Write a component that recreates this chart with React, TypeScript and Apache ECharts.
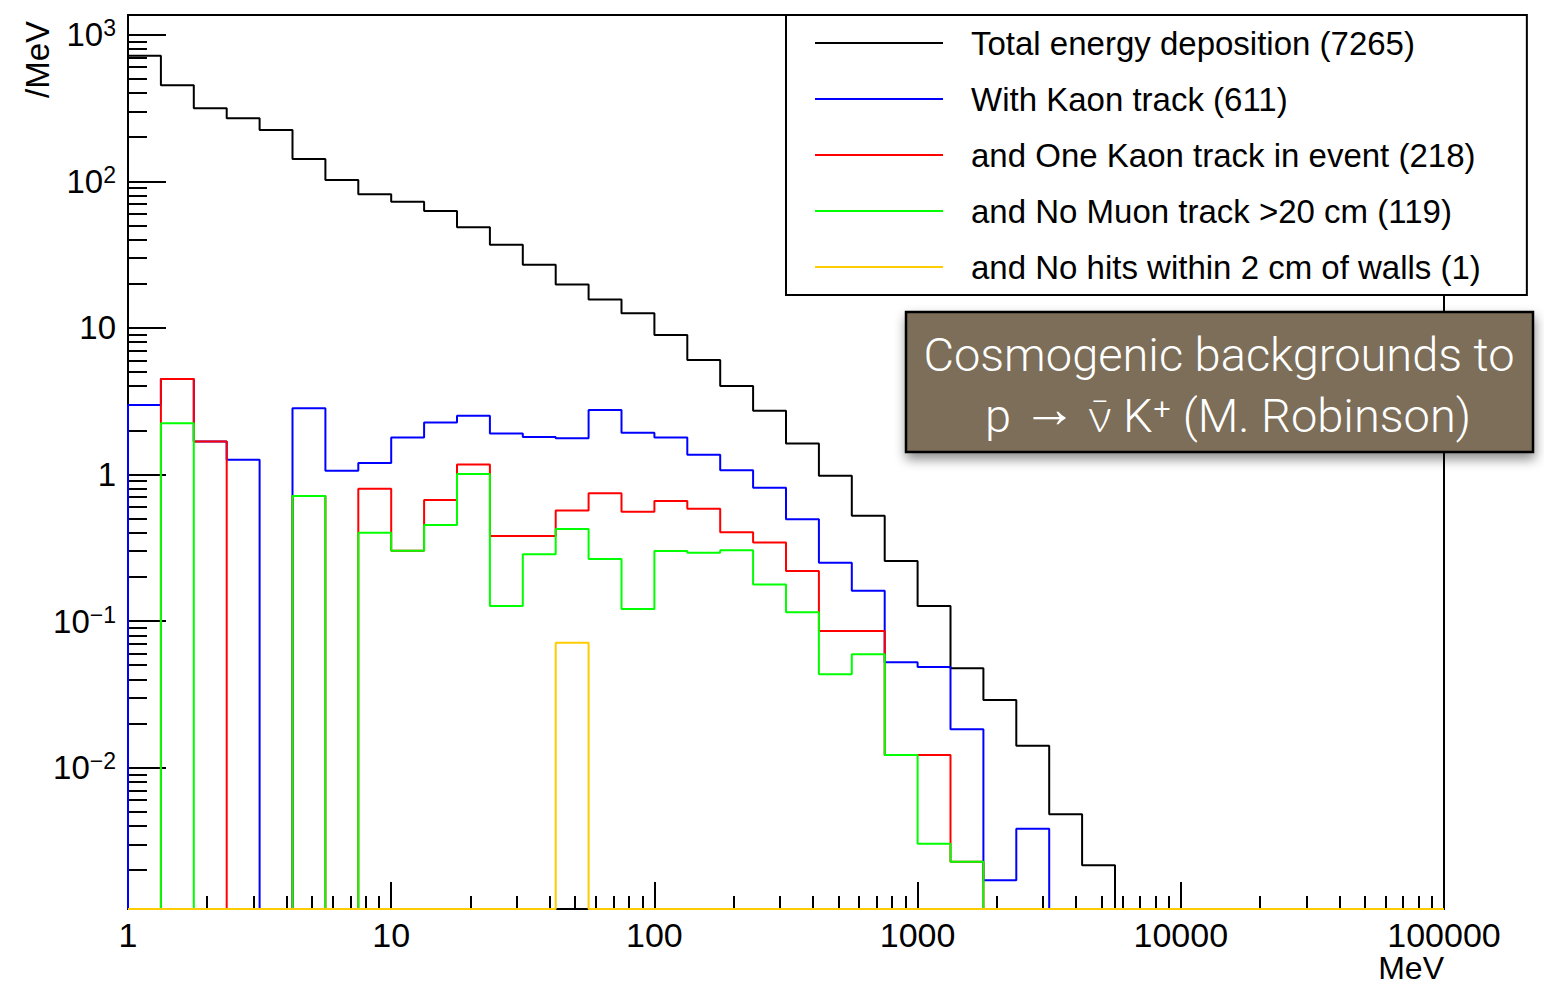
import React, { useEffect, useRef } from "react";
import * as echarts from "echarts";

// Histogram binning: 8 logarithmic bins per decade from 1 MeV to 100 GeV
const BINS_PER_DECADE = 8;
const N_BINS = 40;
const binEdges: number[] = Array.from({ length: N_BINS + 1 }, (_, i) => Math.pow(10, i / BINS_PER_DECADE));

// Bin contents (/MeV), one entry per bin
const totalDeposition = [
  719, 452, 315, 269, 224, 142, 102, 81.5, 72.6, 62.7,
  48.5, 36.9, 27.0, 19.8, 15.6, 12.6, 8.94, 6.04, 4.02, 2.72,
  1.63, 0.981, 0.524, 0.257, 0.127, 0.0476, 0.029, 0.0141, 0.00481, 0.00216,
  0, 0, 0, 0, 0, 0, 0, 0, 0, 0,
];
const withKaonTrack = [
  2.98, 4.48, 1.68, 1.26, 0, 2.83, 1.06, 1.2, 1.79, 2.26,
  2.52, 1.9, 1.8, 1.77, 2.75, 1.93, 1.79, 1.365, 1.07, 0.813,
  0.495, 0.25, 0.161, 0.0524, 0.0486, 0.0183, 0.00171, 0.00384, 0, 0,
  0, 0, 0, 0, 0, 0, 0, 0, 0, 0,
];
const oneKaonInEvent = [
  0, 4.48, 1.68, 0, 0, 0.713, 0, 0.8, 0.302, 0.67,
  1.17, 0.381, 0.381, 0.567, 0.744, 0.558, 0.659, 0.584, 0.403, 0.343,
  0.22, 0.0856, 0.0856, 0.0122, 0.0122, 0.00228, 0, 0, 0, 0,
  0, 0, 0, 0, 0, 0, 0, 0, 0, 0,
];
const noMuonTrack = [
  0, 2.24, 0, 0, 0, 0.713, 0, 0.401, 0.302, 0.453,
  1.008, 0.127, 0.2855, 0.425, 0.265, 0.121, 0.3007, 0.293, 0.304, 0.178,
  0.1148, 0.0434, 0.0594, 0.0122, 0.00303, 0.00228, 0, 0, 0, 0,
  0, 0, 0, 0, 0, 0, 0, 0, 0, 0,
];
const noWallHits = [
  0, 0, 0, 0, 0, 0, 0, 0, 0, 0,
  0, 0, 0, 0.0712, 0, 0, 0, 0, 0, 0,
  0, 0, 0, 0, 0, 0, 0, 0, 0, 0,
  0, 0, 0, 0, 0, 0, 0, 0, 0, 0,
];

const seriesNames = [
  "Total energy deposition (7265)",
  "With Kaon track (611)",
  "and One Kaon track in event (218)",
  "and No Muon track >20 cm (119)",
  "and No hits within 2 cm of walls (1)",
];
const seriesColors = ["#000000", "#0000ff", "#ff0000", "#00ff00", "#ffcc00"];
const seriesValues = [totalDeposition, withKaonTrack, oneKaonInEvent, noMuonTrack, noWallHits];

// Axis ranges and tick values
const X_MIN = 1;
const X_MAX = 100000;
const Y_MIN = 1.087e-3;
const Y_MAX = 1362;
const xMajorTicks = [1, 10, 100, 1000, 10000, 100000];
const xTickLabels = ["1", "10", "100", "1000", "10000", "100000"];
const yMajorTicks = [0.01, 0.1, 1, 10, 100, 1000];
const yTickLabels = ["{b|10}{s|\u22122}", "{b|10}{s|\u22121}", "{b|1}", "{b|10}", "{b|10}{s|2}", "{b|10}{s|3}"];

// 2..9 subdivisions of every decade inside [lo, hi]
function minorLogTicks(lo: number, hi: number): number[] {
  const out: number[] = [];
  for (let d = -4; d <= 6; d++) {
    for (let k = 2; k <= 9; k++) {
      const v = Number((k * Math.pow(10, d)).toPrecision(4));
      if (v >= lo && v <= hi) out.push(v);
    }
  }
  return out;
}

// Outline of a histogram as a step line: rise at the first edge, drop at the last.
// Empty bins sit on the lower edge of the frame, as on a log-scale histogram.
function histogramOutline(values: number[]): [number, number][] {
  const floor = (v: number) => (v > 0 ? v : Y_MIN);
  const pts: [number, number][] = [[binEdges[0], Y_MIN]];
  values.forEach((v, i) => pts.push([binEdges[i], floor(v)]));
  pts.push([binEdges[N_BINS], floor(values[N_BINS - 1])]);
  pts.push([binEdges[N_BINS], Y_MIN]);
  return pts;
}

const tickLabel = (ticks: number[], labels: string[]) => (v: number) => {
  const idx = ticks.findIndex((t) => Math.abs(Math.log10(t) - Math.log10(v)) < 1e-6);
  return idx >= 0 ? labels[idx] : String(v);
};

const FONT = "Liberation Sans, Arial, Helvetica, sans-serif";
const LIGHT_FONT = "Roboto, Lato, sans-serif";

export default function App() {
  const ref = useRef<HTMLDivElement>(null);

  useEffect(() => {
    if (!ref.current) return;
    const chart = echarts.init(ref.current, undefined, { renderer: "svg" });

    const option: any = {
      animation: false,
      backgroundColor: "#ffffff",
      grid: {
        left: 128,
        top: 15,
        right: 100,
        bottom: 79,
        show: true,
        borderColor: "#000",
        borderWidth: 2,
        backgroundColor: "transparent",
      },
      xAxis: [
        {
          type: "log",
          logBase: 10,
          min: X_MIN,
          max: X_MAX,
          position: "bottom",
          axisLine: { show: true, lineStyle: { color: "#000", width: 2 } },
          axisTick: {
            show: true,
            inside: true,
            length: 27,
            customValues: xMajorTicks,
            lineStyle: { color: "#000", width: 2 },
          },
          axisLabel: {
            show: true,
            customValues: xMajorTicks,
            formatter: tickLabel(xMajorTicks, xTickLabels),
            color: "#000",
            fontFamily: FONT,
            fontSize: 34,
            margin: 9,
          },
          splitLine: { show: false },
          minorTick: { show: false },
        },
        {
          type: "log",
          logBase: 10,
          min: X_MIN,
          max: X_MAX,
          position: "bottom",
          axisLine: { show: false },
          axisTick: {
            show: true,
            inside: true,
            length: 13,
            customValues: minorLogTicks(X_MIN, X_MAX),
            lineStyle: { color: "#000", width: 2 },
          },
          axisLabel: { show: false },
          splitLine: { show: false },
        },
      ],
      yAxis: [
        {
          type: "log",
          logBase: 10,
          min: Y_MIN,
          max: Y_MAX,
          position: "left",
          axisLine: { show: true, lineStyle: { color: "#000", width: 2 } },
          axisTick: {
            show: true,
            inside: true,
            length: 38,
            customValues: yMajorTicks,
            lineStyle: { color: "#000", width: 2 },
          },
          axisLabel: {
            show: true,
            customValues: yMajorTicks,
            formatter: tickLabel(yMajorTicks, yTickLabels),
            margin: 12,
            rich: {
              b: { fontSize: 33, fontFamily: FONT, color: "#000", lineHeight: 36 },
              s: { fontSize: 23, fontFamily: FONT, color: "#000", lineHeight: 22, verticalAlign: "top" },
            },
          },
          splitLine: { show: false },
        },
        {
          type: "log",
          logBase: 10,
          min: Y_MIN,
          max: Y_MAX,
          position: "left",
          axisLine: { show: false },
          axisTick: {
            show: true,
            inside: true,
            length: 19,
            customValues: minorLogTicks(Y_MIN, Y_MAX),
            lineStyle: { color: "#000", width: 2 },
          },
          axisLabel: { show: false },
          splitLine: { show: false },
        },
      ],
      legend: {
        orient: "vertical",
        left: 786,
        top: 15,
        padding: [11, 46, 11, 29],
        itemGap: 22,
        itemWidth: 128,
        itemHeight: 2,
        icon: "rect",
        backgroundColor: "#ffffff",
        borderColor: "#000",
        borderWidth: 2,
        borderRadius: 0,
        selectedMode: false,
        textStyle: {
          fontSize: 33,
          fontFamily: FONT,
          color: "#000",
          lineHeight: 34,
          padding: [0, 0, 0, 23],
        },
        data: seriesNames,
        z: 20,
      },
      series: seriesValues.map((vals, i) => ({
        name: seriesNames[i],
        type: "line",
        xAxisIndex: 0,
        yAxisIndex: 0,
        step: "end",
        symbol: "none",
        showSymbol: false,
        color: seriesColors[i],
        itemStyle: { color: seriesColors[i] },
        lineStyle: { color: seriesColors[i], width: 2 },
        data: histogramOutline(vals),
        z: 2 + i,
      })),
      graphic: [
        {
          type: "text",
          x: 37,
          y: 21,
          rotation: Math.PI / 2,
          style: { text: "/MeV", font: `33px ${FONT}`, fill: "#000", align: "right", verticalAlign: "middle" },
        },
        {
          type: "text",
          x: 1444,
          y: 968,
          style: { text: "MeV", font: `32px ${FONT}`, fill: "#000", align: "right", verticalAlign: "middle" },
        },
        {
          type: "group",
          z: 100,
          children: [
            {
              type: "rect",
              shape: { x: 906, y: 312, width: 627, height: 140 },
              style: {
                fill: "#7b6e59",
                stroke: "#000",
                lineWidth: 2.5,
                shadowBlur: 12,
                shadowOffsetX: 1,
                shadowOffsetY: 6,
                shadowColor: "rgba(0,0,0,0.45)",
              },
            },
            {
              type: "text",
              x: 1219,
              y: 354,
              style: {
                text: "Cosmogenic backgrounds to",
                font: `300 47px ${LIGHT_FONT}`,
                fill: "#ffffff",
                align: "center",
                verticalAlign: "middle",
              },
            },
            {
              type: "text",
              x: 1228,
              y: 415,
              style: {
                text: "{t|p }{a|\u2192}{t| \u03bd\u0304 K\u207a (M. Robinson)}",
                fill: "#ffffff",
                align: "center",
                verticalAlign: "middle",
                rich: {
                  t: { font: `300 47px ${LIGHT_FONT}`, fill: "#ffffff", lineHeight: 50 },
                  a: { font: `bold 54px ${FONT}`, fill: "#ffffff", lineHeight: 36, padding: [0, 0, 14, 0] },
                },
              },
            },
          ],
        },
      ],
    };

    chart.setOption(option);
    return () => chart.dispose();
  }, []);

  return (
    <div
      ref={ref}
      style={{ position: "fixed", left: 0, top: 0, width: 1544, height: 988, background: "#fff" }}
    />
  );
}
